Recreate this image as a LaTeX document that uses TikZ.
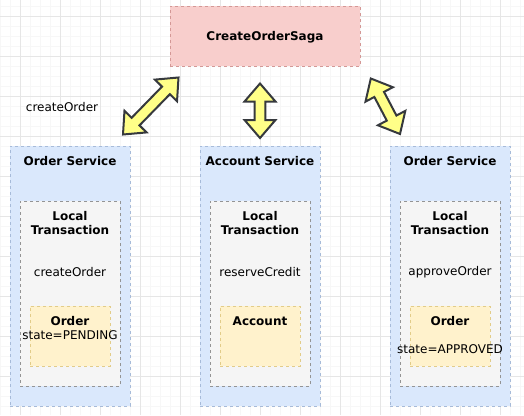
\documentclass[tikz,border=0pt]{standalone}
\usepackage{fontspec}
\setmainfont{DejaVu Sans}
\usetikzlibrary{calc}
\definecolor{sagafill}{HTML}{F8CECC}
\definecolor{sagaline}{HTML}{B85450}
\definecolor{svcfill}{HTML}{DAE8FC}
\definecolor{svcline}{HTML}{6C8EBF}
\definecolor{txfill}{HTML}{F5F5F5}
\definecolor{txline}{HTML}{666666}
\definecolor{entfill}{HTML}{FFF2CC}
\definecolor{entline}{HTML}{D6B656}
\definecolor{arrowfill}{HTML}{FFFF88}
\definecolor{arrowline}{HTML}{36393D}
\definecolor{gridmajor}{HTML}{E6E6E6}
\definecolor{gridminor}{HTML}{F7F7F7}
\tikzstyle{box}=[rectangle,dash pattern=on 2.25pt off 2.25pt,line width=0.6pt,inner sep=0pt]
\tikzstyle{saga}=[box,fill=sagafill,draw=sagaline!60,minimum width=142.5pt,minimum height=45pt]
\tikzstyle{service}=[box,fill=svcfill,draw=svcline!60,minimum width=90pt,minimum height=195pt]
\tikzstyle{localtx}=[box,fill=txfill,draw=txline!70,minimum width=75pt,minimum height=138.75pt]
\tikzstyle{entity}=[box,fill=entfill,draw=entline!70,minimum width=60pt,minimum height=45pt]
\tikzstyle{txt}=[inner sep=0pt,align=center,font=\fontsize{9}{10.5}\selectfont]
\tikzstyle{bold}=[txt,font=\fontsize{9}{10.5}\selectfont\bfseries]
\tikzstyle{flexarrow}=[draw=arrowline,fill=arrowfill,line width=1.5pt,line join=miter,
  to path={-- ($(\tikztostart)!13.5pt!(\tikztotarget)!11.6pt!90:(\tikztotarget)$)
           -- ($(\tikztostart)!13.5pt!(\tikztotarget)!4.1pt!90:(\tikztotarget)$)
           -- ($(\tikztotarget)!13.5pt!(\tikztostart)!4.1pt!-90:(\tikztostart)$)
           -- ($(\tikztotarget)!13.5pt!(\tikztostart)!11.6pt!-90:(\tikztostart)$)
           -- (\tikztotarget)
           -- ($(\tikztotarget)!13.5pt!(\tikztostart)!11.6pt!90:(\tikztostart)$)
           -- ($(\tikztotarget)!13.5pt!(\tikztostart)!4.1pt!90:(\tikztostart)$)
           -- ($(\tikztostart)!13.5pt!(\tikztotarget)!4.1pt!-90:(\tikztotarget)$)
           -- ($(\tikztostart)!13.5pt!(\tikztotarget)!11.6pt!-90:(\tikztotarget)$)
           -- cycle}]

\begin{document}
\begin{tikzpicture}[x=0.75pt,y=-0.75pt]
    \useasboundingbox (0,0) rectangle (524,415);
    % Background grid
    \foreach \gx in {0,10,...,520}
        \draw[gridminor,line width=0.75pt] (\gx,0) -- (\gx,415);
    \foreach \gy in {6,16,...,406}
        \draw[gridminor,line width=0.75pt] (0,\gy) -- (524,\gy);
    \foreach \gx in {20,60,...,500}
        \draw[gridmajor,line width=0.75pt] (\gx,0) -- (\gx,415);
    \foreach \gy in {16,56,...,400}
        \draw[gridmajor,line width=0.75pt] (0,\gy) -- (524,\gy);

    % The saga on top
    \node[saga] (saga) at (265,36) {};
    \node[bold] (saga-title) at (265,37) {CreateOrderSaga};

    % Then the three services with their local transactions
    \foreach \x/\name/\title/\op in {70/os1/Order Service/createOrder,
                                     260/as/Account Service/reserveCredit,
                                     450/os2/Order Service/approveOrder}
    {
        \node[service] (\name) at (\x,276) {};
        \node[bold] (\name-title) at (\x,161) {\title};
        \node[localtx] (\name-tx) at (\x,293.5) {};
        \node[bold] (\name-txtitle) at (\x,223) {Local\\Transaction};
        \node[txt] (\name-op) at (\x,272) {\op};
        \node[entity] (\name-ent) at (\x,336) {};
    }
    \node[txt] (os1-enttext) at (70,328) {\textbf{Order}\\state=PENDING};
    \node[bold] (as-enttext) at (260,321) {Account};
    \node[bold] (os2-enttext) at (450,321) {Order};
    \node[txt] (os2-state) at (450,349) {state=APPROVED};

    \node[txt] (call) at (62,107) {createOrder};

    % Double arrows between saga and services
    \coordinate (sagaL) at (178.5,77.5);
    \coordinate (os1top) at (123,134.5);
    \coordinate (sagaM) at (260,83.5);
    \coordinate (astop) at (260,138);
    \coordinate (sagaR) at (370.8,78.5);
    \coordinate (os2top) at (400,134);
    \draw[flexarrow] (os1top) to (sagaL);
    \draw[flexarrow] (astop) to (sagaM);
    \draw[flexarrow] (os2top) to (sagaR);
\end{tikzpicture}
\end{document}
